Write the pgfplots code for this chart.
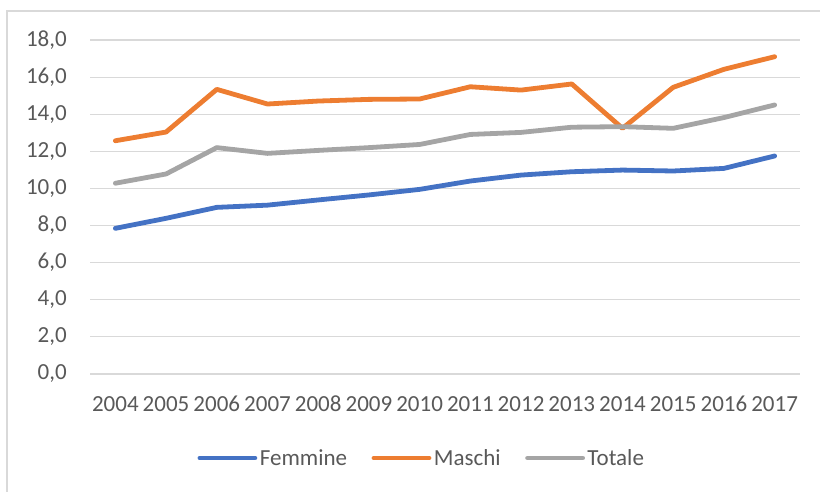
\documentclass[border=0pt]{standalone}
\usepackage{fontspec}
\setmainfont{Carlito}
\usepackage{pgfplots}
\pgfplotsset{compat=1.18}
\definecolor{cblue}{HTML}{4472C4}
\definecolor{corange}{HTML}{ED7D31}
\definecolor{cgray}{HTML}{A5A5A5}
\definecolor{cgrid}{HTML}{D9D9D9}
\definecolor{ctext}{HTML}{595959}
\begin{document}
\begin{tikzpicture}
\path[use as bounding box] (0,0) rectangle (820bp,492bp);
\draw[cgrid, line width=1.2bp] (7bp,0) -- (7bp,481bp) -- (820bp,481bp);
\begin{axis}[
  at={(90bp,118bp)}, anchor=south west,
  scale only axis, width=710bp, height=334bp,
  xmin=-0.5, xmax=13.5, ymin=0, ymax=18,
  xtick={0,...,13},
  xticklabels={2004,2005,2006,2007,2008,2009,2010,2011,2012,2013,2014,2015,2016,2017},
  ytick={0,2,...,18},
  axis line style={draw=none},
  major tick length=0pt,
  ymajorgrids, grid style={cgrid, line width=1.2bp},
  tick label style={font=\fontsize{23.1}{27}\selectfont, text=ctext},
  yticklabel style={anchor=east, inner sep=0pt, xshift=-23bp},
  xticklabel style={anchor=north, inner sep=0pt, yshift=-22bp},
  yticklabel={\pgfmathprintnumber[fixed,fixed zerofill,precision=1,use comma,assume math mode=true]{\tick}},
  clip=false,
  legend columns=3,
  legend style={at={(0.4676,-0.2515)}, anchor=center, draw=none, fill=none,
    font=\fontsize{23.1}{27}\selectfont, text=ctext,
    nodes={inner sep=2.5bp},
    /tikz/every even column/.append style={column sep=22bp}},
  legend image code/.code={\draw[#1, line cap=round] (0bp,0bp) -- (55bp,0bp);},
  every axis plot/.append style={line width=4.8bp, line join=round, line cap=round},
]
\addplot[cblue] coordinates {(0,7.85) (1,8.39) (2,8.98) (3,9.10) (4,9.38) (5,9.65) (6,9.95) (7,10.40) (8,10.72) (9,10.90) (10,10.99) (11,10.94) (12,11.08) (13,11.75)};
\addlegendentry{Femmine}
\addplot[corange] coordinates {(0,12.57) (1,13.04) (2,15.34) (3,14.55) (4,14.71) (5,14.80) (6,14.82) (7,15.48) (8,15.30) (9,15.63) (10,13.24) (11,15.45) (12,16.42) (13,17.10)};
\addlegendentry{Maschi}
\addplot[cgray] coordinates {(0,10.28) (1,10.78) (2,12.20) (3,11.89) (4,12.05) (5,12.20) (6,12.37) (7,12.91) (8,13.02) (9,13.30) (10,13.33) (11,13.24) (12,13.82) (13,14.50)};
\addlegendentry{Totale}
\end{axis}
\end{tikzpicture}
\end{document}
